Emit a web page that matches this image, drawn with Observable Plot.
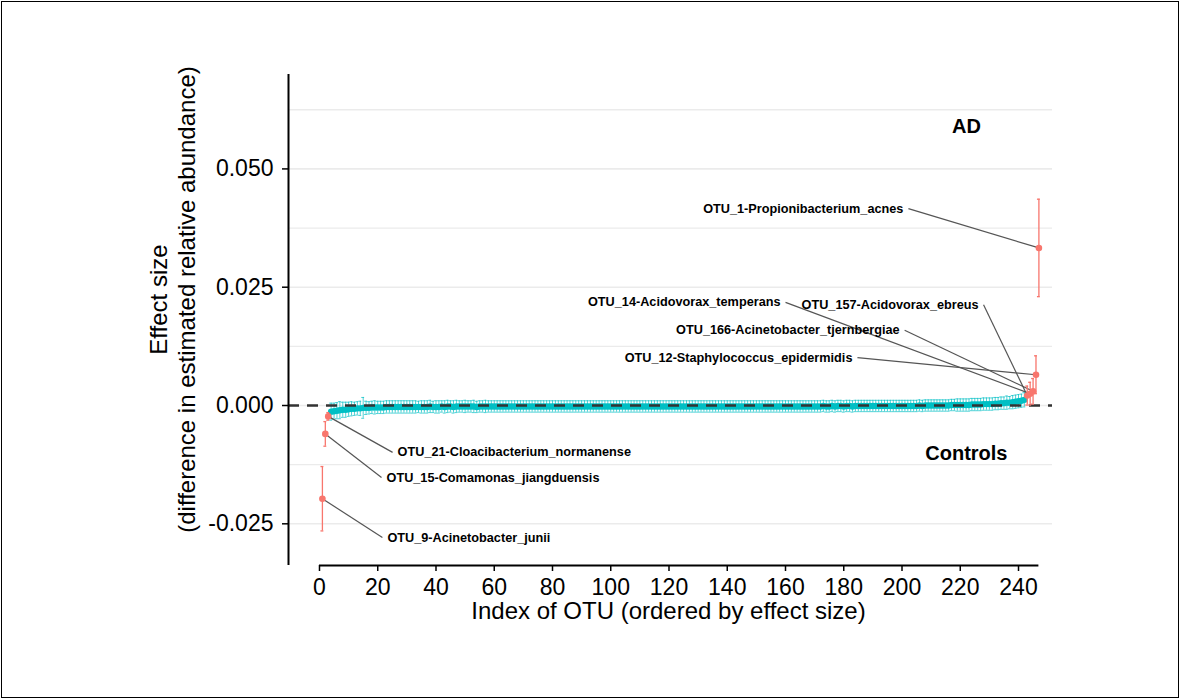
<!DOCTYPE html>
<html><head><meta charset="utf-8">
<script src="https://cdn.jsdelivr.net/npm/d3@7"></script>
<script src="https://cdn.jsdelivr.net/npm/@observablehq/plot@0.6"></script>
<style>
html,body{margin:0;padding:0;background:#fff;}
#wrap{position:relative;width:1181px;height:700px;overflow:hidden;background:#fff;}
#border{position:absolute;left:1px;top:1px;right:2px;bottom:2px;border:1.5px solid #000;pointer-events:none;}
svg{display:block;}
</style></head><body>
<div id="wrap"><div id="border"></div></div>
<script>
// Effect size (difference in estimated relative abundance), OTUs ordered by effect size (index 1..247)
const effect = [
-0.0197,-0.0060,-0.0023,-0.0013,-0.0012,-0.0011,-0.0010,-0.0009,-0.0009,-0.0008,
-0.0007,-0.0007,-0.0006,-0.0006,-0.0005,-0.0005,-0.0005,-0.0004,-0.0004,-0.0004,
-0.0004,-0.0004,-0.0003,-0.0003,-0.0003,-0.0003,-0.0003,-0.0003,-0.0003,-0.0003,
-0.0003,-0.0003,-0.0003,-0.0003,-0.0003,-0.0003,-0.0003,-0.0002,-0.0003,-0.0003,
-0.0003,-0.0002,-0.0003,-0.0002,-0.0002,-0.0003,-0.0002,-0.0002,-0.0002,-0.0002,
-0.0002,-0.0002,-0.0002,-0.0003,-0.0002,-0.0002,-0.0002,-0.0002,-0.0002,-0.0002,
-0.0002,-0.0002,-0.0002,-0.0002,-0.0002,-0.0002,-0.0002,-0.0002,-0.0002,-0.0002,
-0.0002,-0.0002,-0.0002,-0.0002,-0.0002,-0.0002,-0.0002,-0.0002,-0.0002,-0.0002,
-0.0002,-0.0002,-0.0002,-0.0002,-0.0002,-0.0002,-0.0002,-0.0002,-0.0002,-0.0002,
-0.0002,-0.0002,-0.0002,-0.0002,-0.0002,-0.0002,-0.0002,-0.0002,-0.0002,-0.0002,
-0.0002,-0.0002,-0.0002,-0.0002,-0.0002,-0.0002,-0.0002,-0.0002,-0.0002,-0.0002,
-0.0002,-0.0002,-0.0002,-0.0002,-0.0002,-0.0002,-0.0002,-0.0002,-0.0002,-0.0002,
-0.0002,-0.0002,-0.0002,-0.0002,-0.0002,-0.0002,-0.0002,-0.0002,-0.0002,-0.0002,
-0.0002,-0.0002,-0.0002,-0.0002,-0.0002,-0.0002,-0.0002,-0.0002,-0.0002,-0.0002,
-0.0002,-0.0002,-0.0002,-0.0002,-0.0002,-0.0002,-0.0002,-0.0002,-0.0002,-0.0002,
-0.0002,-0.0002,-0.0002,-0.0002,-0.0002,-0.0002,-0.0002,-0.0002,-0.0002,-0.0002,
-0.0002,-0.0002,-0.0002,-0.0002,-0.0002,-0.0002,-0.0002,-0.0002,-0.0002,-0.0002,
-0.0002,-0.0002,-0.0001,-0.0002,-0.0002,-0.0001,-0.0002,-0.0001,-0.0001,-0.0002,
-0.0001,-0.0001,-0.0002,-0.0001,-0.0001,-0.0001,-0.0001,-0.0001,-0.0001,-0.0001,
-0.0001,-0.0001,-0.0001,-0.0001,-0.0001,-0.0001,-0.0001,-0.0001,-0.0001,-0.0001,
-0.0001,-0.0001,-0.0001,-0.0001,-0.0001,0.0000,-0.0001,0.0000,0.0000,0.0000,
0.0000,0.0000,0.0000,0.0000,0.0000,0.0000,0.0001,0.0001,0.0001,0.0001,
0.0001,0.0001,0.0001,0.0002,0.0002,0.0002,0.0002,0.0003,0.0003,0.0003,
0.0003,0.0004,0.0004,0.0005,0.0005,0.0006,0.0006,0.0007,0.0008,0.0009,
0.0010,0.0012,0.0021,0.0025,0.0030,0.0065,0.0333
];
// Half-width of each OTU's error bar
const ciHalf = [
0.0068,0.0026,0.0008,0.0018,0.0017,0.0017,0.0018,0.0016,0.0016,0.0015,
0.0015,0.0014,0.0014,0.0015,0.0022,0.0014,0.0013,0.0013,0.0014,0.0013,
0.0013,0.0013,0.0013,0.0013,0.0013,0.0013,0.0013,0.0013,0.0013,0.0013,
0.0013,0.0013,0.0013,0.0012,0.0013,0.0013,0.0013,0.0013,0.0012,0.0013,
0.0013,0.0012,0.0013,0.0013,0.0012,0.0013,0.0013,0.0012,0.0012,0.0013,
0.0012,0.0012,0.0013,0.0012,0.0012,0.0012,0.0013,0.0012,0.0012,0.0012,
0.0012,0.0012,0.0012,0.0012,0.0012,0.0012,0.0012,0.0012,0.0012,0.0012,
0.0012,0.0012,0.0012,0.0012,0.0012,0.0012,0.0012,0.0012,0.0012,0.0012,
0.0012,0.0012,0.0012,0.0012,0.0012,0.0012,0.0012,0.0012,0.0012,0.0012,
0.0012,0.0012,0.0012,0.0012,0.0012,0.0012,0.0012,0.0012,0.0012,0.0012,
0.0012,0.0012,0.0012,0.0012,0.0012,0.0012,0.0012,0.0012,0.0012,0.0012,
0.0012,0.0012,0.0012,0.0012,0.0012,0.0012,0.0012,0.0012,0.0012,0.0012,
0.0012,0.0012,0.0012,0.0012,0.0012,0.0012,0.0012,0.0012,0.0012,0.0012,
0.0012,0.0012,0.0012,0.0012,0.0012,0.0012,0.0012,0.0012,0.0012,0.0012,
0.0012,0.0012,0.0012,0.0012,0.0012,0.0012,0.0012,0.0012,0.0012,0.0012,
0.0012,0.0012,0.0012,0.0012,0.0012,0.0012,0.0012,0.0012,0.0012,0.0012,
0.0012,0.0012,0.0012,0.0012,0.0012,0.0012,0.0012,0.0012,0.0012,0.0012,
0.0012,0.0012,0.0012,0.0012,0.0012,0.0012,0.0012,0.0012,0.0012,0.0012,
0.0012,0.0012,0.0012,0.0012,0.0012,0.0012,0.0012,0.0012,0.0012,0.0012,
0.0012,0.0012,0.0012,0.0012,0.0012,0.0012,0.0012,0.0012,0.0012,0.0012,
0.0012,0.0012,0.0012,0.0012,0.0012,0.0012,0.0012,0.0012,0.0012,0.0012,
0.0012,0.0012,0.0012,0.0012,0.0012,0.0012,0.0012,0.0012,0.0013,0.0013,
0.0013,0.0013,0.0013,0.0013,0.0013,0.0013,0.0013,0.0013,0.0013,0.0013,
0.0013,0.0013,0.0013,0.0013,0.0013,0.0014,0.0013,0.0014,0.0014,0.0014,
0.0014,0.0015,0.0020,0.0024,0.0027,0.0040,0.0103
];
// Labelled (significant) OTUs
const sigIndex = [1, 2, 3, 243, 244, 245, 246, 247];
const sigName = [
  "OTU_9-Acinetobacter_junii",
  "OTU_15-Comamonas_jiangduensis",
  "OTU_21-Cloacibacterium_normanense",
  "OTU_157-Acidovorax_ebreus",
  "OTU_14-Acidovorax_temperans",
  "OTU_166-Acinetobacter_tjernbergiae",
  "OTU_12-Staphylococcus_epidermidis",
  "OTU_1-Propionibacterium_acnes"
];
// repelled label anchor (in data units: index, effect)
const labelX = [21.6, 21.3, 25.1, 228.0, 160.0, 200.9, 184.7, 202.2];
const labelY = [-0.0279, -0.0152, -0.0099, 0.0213, 0.0218, 0.0159, 0.0101, 0.0416];
// group annotations
const groupText = ["AD", "Controls"];
const groupX = [222.1, 222.1];
const groupY = [0.0590, -0.0101];
// axes
const xTicks = [0, 20, 40, 60, 80, 100, 120, 140, 160, 180, 200, 220, 240];
const yTicks = [-0.025, 0, 0.025, 0.05];
const yMinorGrid = [-0.0125, 0.0125, 0.0375, 0.0625];
const xDomain = [-10.64, 251.67];
const yDomain = [-0.03381, 0.06995];
const xTitle = "Index of OTU (ordered by effect size)";
const yTitle = "Effect size\n(difference in estimated relative abundance)";

const RED = "#F8766D", CYAN = "#00BFC4";
const n = effect.length;
const rows = effect.map((v, k) => ({i: k + 1, v, lo: v - ciHalf[k], hi: v + ciHalf[k], sig: sigIndex.includes(k + 1)}));
const cyanRows = rows.filter(d => !d.sig);
const redRows = rows.filter(d => d.sig);
const sigRows = sigIndex.map((k, j) => ({i: k, v: effect[k - 1], name: sigName[j], lx: labelX[j], ly: labelY[j], left: labelY[j] < 0}));
const groups = groupText.map((t, j) => ({t, x: groupX[j], y: groupY[j]}));
const font = "'Liberation Sans', Arial, Helvetica, sans-serif";

const chart = Plot.plot({
  width: 1181, height: 700,
  marginLeft: 288, marginRight: 129, marginTop: 74, marginBottom: 135,
  style: {fontFamily: font, background: "transparent", color: "#000", overflow: "visible"},
  x: {domain: xDomain},
  y: {domain: yDomain},
  marks: [
    Plot.ruleY(yMinorGrid, {stroke: "#ebebeb", strokeWidth: 1.3}),
    Plot.ruleY(yTicks, {stroke: "#ebebeb", strokeWidth: 1.6}),
    // cyan error bars + caps + points
    Plot.ruleX(cyanRows, {x: "i", y1: "lo", y2: "hi", stroke: CYAN, strokeWidth: 0.7}),
    Plot.ruleY(cyanRows, {y: "lo", x1: d => d.i - 0.5, x2: d => d.i + 0.5, stroke: CYAN, strokeWidth: 0.7}),
    Plot.ruleY(cyanRows, {y: "hi", x1: d => d.i - 0.5, x2: d => d.i + 0.5, stroke: CYAN, strokeWidth: 0.7}),
    Plot.dot(cyanRows, {x: "i", y: "v", r: 3.2, fill: CYAN, stroke: "none"}),
    // zero line
    Plot.ruleY([0], {stroke: "#333", strokeWidth: 2.4, strokeDasharray: "11,8"}),
    // label segments
    Plot.link(sigRows, {x1: "lx", y1: "ly", x2: "i", y2: "v", stroke: "#555", strokeWidth: 1.2}),
    // red error bars + points
    Plot.ruleX(redRows, {x: "i", y1: "lo", y2: "hi", stroke: RED, strokeWidth: 1.3}),
    Plot.ruleY(redRows, {y: "lo", x1: d => d.i - 0.5, x2: d => d.i + 0.5, stroke: RED, strokeWidth: 1.3}),
    Plot.ruleY(redRows, {y: "hi", x1: d => d.i - 0.5, x2: d => d.i + 0.5, stroke: RED, strokeWidth: 1.3}),
    Plot.dot(redRows, {x: "i", y: "v", r: 3.3, fill: RED, stroke: "none"}),
    // labels
    Plot.text(sigRows.filter(d => d.left), {x: "lx", y: "ly", text: "name", textAnchor: "start", dx: 5, fontSize: 12.7, fontWeight: "bold", fill: "#000"}),
    Plot.text(sigRows.filter(d => !d.left), {x: "lx", y: "ly", text: "name", textAnchor: "end", dx: -5, fontSize: 12.7, fontWeight: "bold", fill: "#000"}),
    Plot.text(groups, {x: "x", y: "y", text: "t", fontSize: 20, fontWeight: "bold", fill: "#000"}),
    // axis lines
    Plot.ruleX([xDomain[0]], {y1: yDomain[0], y2: yDomain[1], stroke: "#000", strokeWidth: 2}),
    Plot.ruleY([yDomain[0]], {x1: 0, x2: n, stroke: "#000", strokeWidth: 2}),
    Plot.axisX({ticks: xTicks, tickSize: 6, tickPadding: 7, fontSize: 23, label: null, strokeWidth: 1.5}),
    Plot.axisY({ticks: yTicks, tickFormat: d => d.toFixed(3), tickSize: 6, tickPadding: 9, fontSize: 23, label: null, strokeWidth: 1.5}),
    // titles
    Plot.text([xTitle], {text: d => d, frameAnchor: "bottom", textAnchor: "middle", lineAnchor: "middle", dx: -2, dy: 46, fontSize: 24, fill: "#000"}),
    Plot.text([yTitle], {text: d => d, frameAnchor: "left", textAnchor: "middle", lineAnchor: "middle", rotate: -90, dx: -116.5, dy: -20.5, fontSize: 24, lineHeight: 1.15, fill: "#000"})
  ]
});
document.getElementById("wrap").prepend(chart);
</script>
</body></html>
